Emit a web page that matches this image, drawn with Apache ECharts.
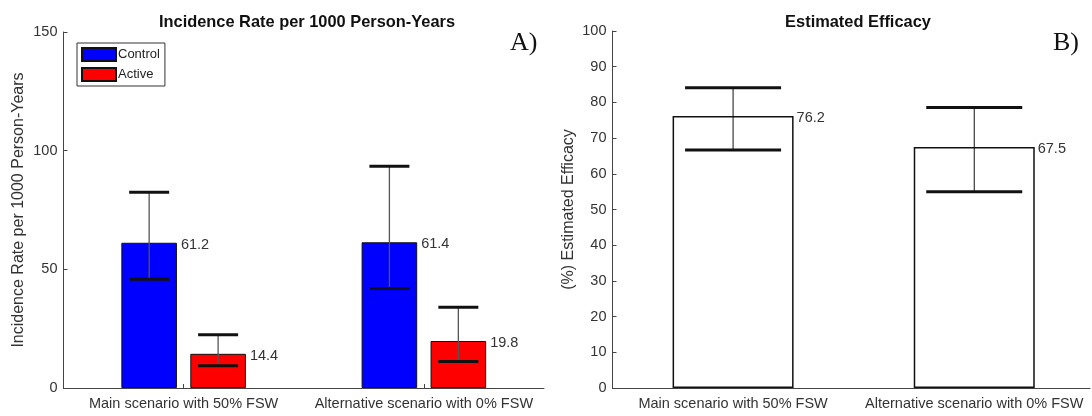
<!DOCTYPE html>
<html>
<head>
<meta charset="utf-8">
<script src="https://cdn.jsdelivr.net/npm/echarts@6/dist/echarts.min.js"></script>
<style>html,body{margin:0;padding:0;background:#fff}#c{width:1092px;height:416px}</style>
</head>
<body>
<div id="c"></div>
<script>
// ---- data ----
const categories = ['Main scenario with 50% FSW', 'Alternative scenario with 0% FSW'];
const controlRate = [61.2, 61.4];
const controlLow = [45.8, 41.9];
const controlHigh = [82.5, 93.4];
const activeRate = [14.4, 19.8];
const activeLow = [9.4, 11.2];
const activeHigh = [22.4, 34.0];
const efficacy = [76.2, 67.5];
const efficacyLow = [66.7, 55.0];
const efficacyHigh = [84.1, 78.6];
const efficacyPos = [1, 2];
const rateTicks = {min: 0, max: 150, interval: 50};
const effTicks = {min: 0, max: 100, interval: 10};

// ---- style ----
const FONT = 'Liberation Sans';
const AX = '#444';
const TXT = '#333';
const FS = 14.5;
const BW = 55.6;         // left bar width px
const GAP = 0.24;        // barGap fraction
const OFF = (BW + BW * GAP) / 2;
const EBW = 121;         // right bar width px

function errRender(offset, capW, vColor, vWidth) {
  return function (params, api) {
    const x = api.value(0), lo = api.value(1), hi = api.value(2);
    const pLo = api.coord([x, lo]);
    const pHi = api.coord([x, hi]);
    const cx = pLo[0] + offset;
    return {
      type: 'group',
      children: [
        {type: 'line', shape: {x1: cx, y1: pHi[1], x2: cx, y2: pLo[1]}, style: {stroke: vColor, lineWidth: vWidth}},
        {type: 'line', shape: {x1: cx - capW / 2, y1: pHi[1], x2: cx + capW / 2, y2: pHi[1]}, style: {stroke: '#111', lineWidth: 3}},
        {type: 'line', shape: {x1: cx - capW / 2, y1: pLo[1], x2: cx + capW / 2, y2: pLo[1]}, style: {stroke: '#111', lineWidth: 3}}
      ]
    };
  };
}

const lineStyle = {color: AX, width: 1};
const chart = echarts.init(document.getElementById('c'));
chart.setOption({
  animation: false,
  backgroundColor: '#fff',
  title: [
    {text: 'Incidence Rate per 1000 Person-Years', left: 302, top: 9, textAlign: 'center',
      textStyle: {fontFamily: FONT, fontSize: 16.4, fontWeight: 'bold', color: '#111'}},
    {text: 'Estimated Efficacy', left: 853, top: 9, textAlign: 'center',
      textStyle: {fontFamily: FONT, fontSize: 16.4, fontWeight: 'bold', color: '#111'}},
    {text: 'A)', left: 505, top: 25, textStyle: {fontFamily: 'Liberation Serif', fontSize: 26, fontWeight: 'normal', color: '#111'}},
    {text: 'B)', left: 1048, top: 25, textStyle: {fontFamily: 'Liberation Serif', fontSize: 26, fontWeight: 'normal', color: '#111'}}
  ],
  legend: {
    data: ['Control', 'Active'],
    orient: 'vertical', left: 77, top: 43,
    itemWidth: 34, itemHeight: 13, itemGap: 5,
    padding: [4, 5, 4, 4],
    borderColor: '#333', borderWidth: 1, backgroundColor: '#fff',
    textStyle: {fontFamily: FONT, fontSize: 13, color: '#222', padding: [0, 0, 0, -3]},
    icon: 'rect'
  },
  grid: [
    {left: 63.5, right: 548, top: 32, bottom: 28},
    {left: 612.5, right: 2, top: 31, bottom: 28}
  ],
  xAxis: [
    {
      gridIndex: 0, type: 'category', data: categories, boundaryGap: true,
      axisLine: {show: true, lineStyle},
      axisTick: {show: true, inside: true, length: 4, alignWithLabel: true, lineStyle: {color: AX}},
      splitLine: {show: false},
      axisLabel: {color: TXT, fontFamily: FONT, fontSize: FS, margin: 8, interval: 0}
    },
    {
      gridIndex: 1, type: 'value', min: 0.5, max: 2.48,
      axisLine: {show: true, lineStyle},
      axisTick: {show: false},
      splitLine: {show: false},
      axisLabel: {color: TXT, fontFamily: FONT, fontSize: FS, margin: 8,
        customValues: efficacyPos,
        formatter: function (v) { const i = efficacyPos.indexOf(v); return i >= 0 ? categories[i] : ''; }}
    }
  ],
  yAxis: [
    {
      gridIndex: 0, type: 'value', min: rateTicks.min, max: rateTicks.max, interval: rateTicks.interval,
      axisLine: {show: true, lineStyle},
      axisTick: {show: true, inside: true, length: 4, lineStyle: {color: AX}},
      splitLine: {show: false},
      axisLabel: {color: TXT, fontFamily: FONT, fontSize: FS, margin: 6},
      name: 'Incidence Rate per 1000 Person-Years', nameLocation: 'middle', nameGap: 37,
      nameTextStyle: {fontFamily: FONT, fontSize: 16, color: TXT}
    },
    {
      gridIndex: 1, type: 'value', min: effTicks.min, max: effTicks.max, interval: effTicks.interval,
      axisLine: {show: true, lineStyle},
      axisTick: {show: true, inside: true, length: 4, lineStyle: {color: AX}},
      splitLine: {show: false},
      axisLabel: {color: TXT, fontFamily: FONT, fontSize: FS, margin: 6},
      name: '(%) Estimated Efficacy', nameLocation: 'middle', nameGap: 36,
      nameTextStyle: {fontFamily: FONT, fontSize: 16, color: TXT}
    }
  ],
  series: [
    {
      name: 'Control', type: 'bar', xAxisIndex: 0, yAxisIndex: 0,
      data: controlRate, barWidth: BW, barGap: (GAP * 100) + '%',
      itemStyle: {color: '#0000ff', borderColor: '#111', borderWidth: 1},
      label: {show: true, position: [BW + 4, 2], verticalAlign: 'middle', align: 'left',
        fontFamily: FONT, fontSize: FS, color: TXT,
        formatter: p => controlRate[p.dataIndex].toFixed(1)}
    },
    {
      name: 'Active', type: 'bar', xAxisIndex: 0, yAxisIndex: 0,
      data: activeRate, barWidth: BW, barGap: (GAP * 100) + '%',
      itemStyle: {color: '#ff0000', borderColor: '#111', borderWidth: 1},
      label: {show: true, position: [BW + 4, 2], verticalAlign: 'middle', align: 'left',
        fontFamily: FONT, fontSize: FS, color: TXT,
        formatter: p => activeRate[p.dataIndex].toFixed(1)}
    },
    {
      name: 'ctrlErr', type: 'custom', xAxisIndex: 0, yAxisIndex: 0, z: 5,
      renderItem: errRender(-OFF, 40, '#555', 1.3),
      data: controlRate.map((v, i) => [i, controlLow[i], controlHigh[i]]),
      encode: {x: 0, y: [1, 2]}
    },
    {
      name: 'actErr', type: 'custom', xAxisIndex: 0, yAxisIndex: 0, z: 5,
      renderItem: errRender(OFF, 40, '#555', 1.3),
      data: activeRate.map((v, i) => [i, activeLow[i], activeHigh[i]]),
      encode: {x: 0, y: [1, 2]}
    },
    {
      name: 'Efficacy', type: 'bar', xAxisIndex: 1, yAxisIndex: 1,
      data: efficacy.map((v, i) => [efficacyPos[i], v]), barWidth: EBW,
      itemStyle: {color: '#fff', borderColor: '#111', borderWidth: 1.5},
      label: {show: true, position: [EBW + 3, 2], verticalAlign: 'middle', align: 'left',
        fontFamily: FONT, fontSize: FS, color: TXT,
        formatter: p => efficacy[p.dataIndex].toFixed(1)}
    },
    {
      name: 'effErr', type: 'custom', xAxisIndex: 1, yAxisIndex: 1, z: 5,
      renderItem: errRender(0, 96, '#111', 1),
      data: efficacy.map((v, i) => [efficacyPos[i], efficacyLow[i], efficacyHigh[i]]),
      encode: {x: 0, y: [1, 2]}
    }
  ]
});
</script>
</body>
</html>
